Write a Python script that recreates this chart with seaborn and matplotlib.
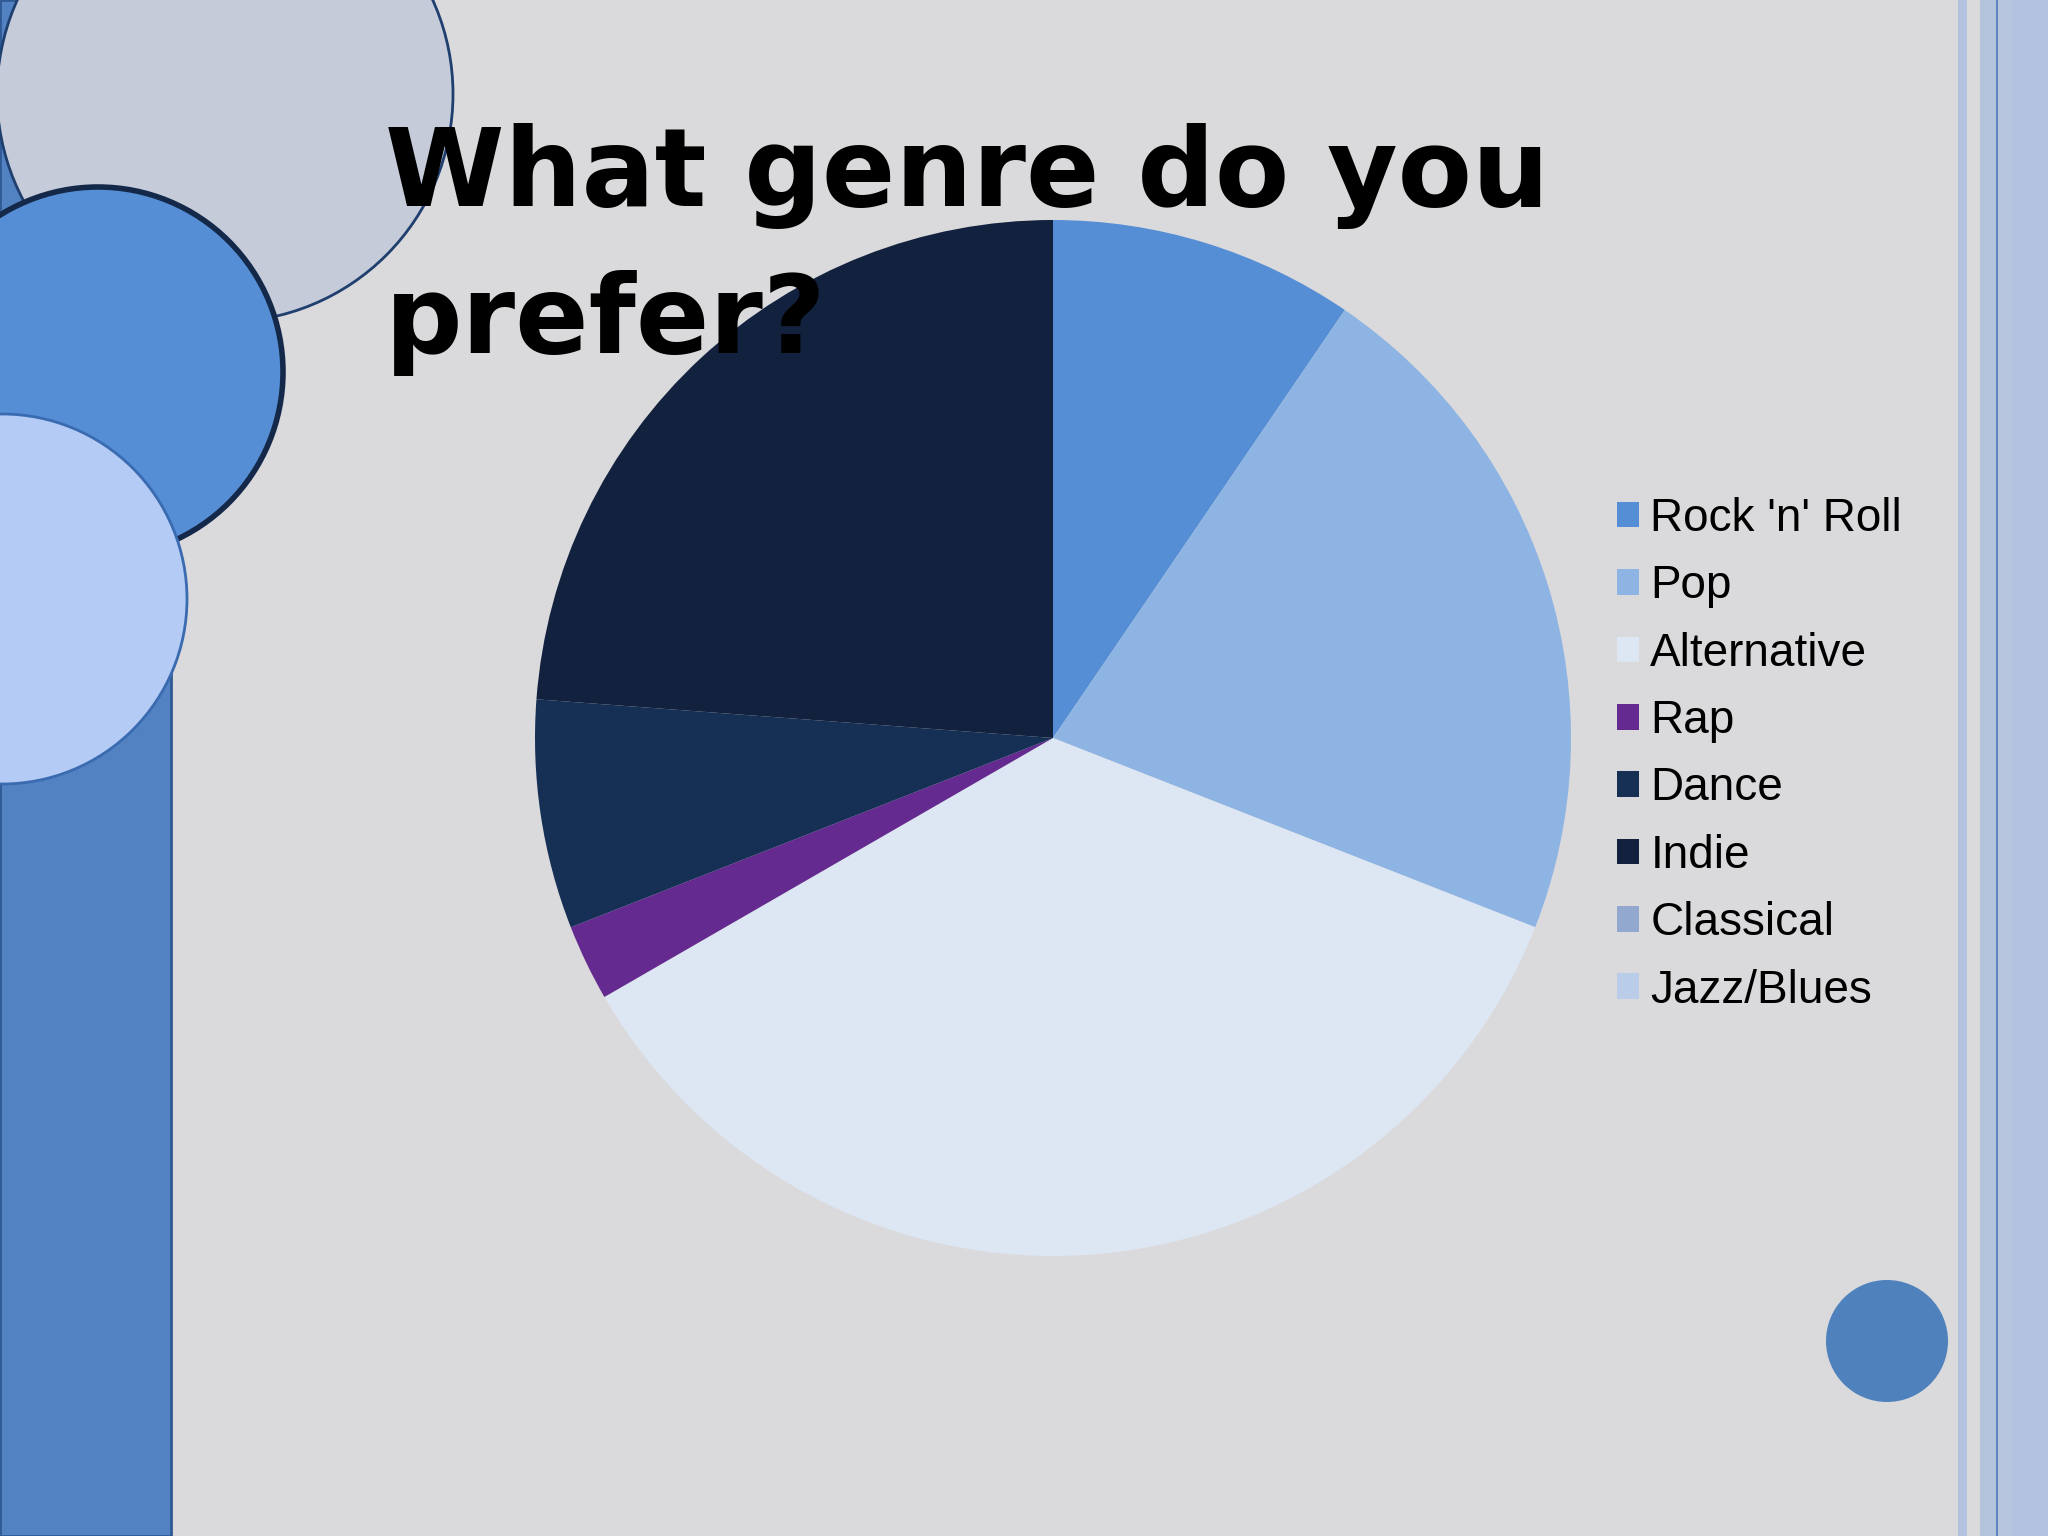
import matplotlib
matplotlib.use("Agg")
import matplotlib.pyplot as plt
from matplotlib.patches import Circle, Rectangle, Patch
import seaborn as sns

genres = ["Rock 'n' Roll", "Pop", "Alternative", "Rap", "Dance", "Indie", "Classical", "Jazz/Blues"]
votes = [4, 9, 15, 1, 3, 10, 0, 0]
genre_colors = ["#558ED5", "#8EB4E3", "#DDE6F3", "#652A8F", "#152F55", "#12223E", "#93A8CF", "#B9CDE9"]

title_lines = ["What genre do you", "prefer?"]

sns.set_theme(style="white")
plt.rcParams['font.family'] = ['Liberation Sans', 'DejaVu Sans']

W, H = 2048, 1536
fig = plt.figure(figsize=(20.48, 15.36), dpi=100)
fig.patch.set_facecolor("#DAD9DB")

# slide decoration, pixel coordinates
bg = fig.add_axes([0, 0, 1, 1])
bg.set_xlim(0, W)
bg.set_ylim(H, 0)
bg.axis("off")
bg.set_zorder(0)

bg.add_patch(Rectangle((0, 0), 171, H, facecolor="#5282C2", edgecolor="#2F5A94", lw=2))
bg.add_patch(Circle((225, 94), 228, facecolor="#C5CBD9", edgecolor="#1F3F6F", lw=2))
bg.add_patch(Circle((98, 372), 185, facecolor="#558ED5", edgecolor="#14294A", lw=4))
bg.add_patch(Circle((2, 599), 185, facecolor="#B4CBF5", edgecolor="#3A6BB0", lw=2))
bg.add_patch(Circle((1887, 1341), 61, facecolor="#4F81BD", edgecolor="none"))

# right side stripes
bg.add_patch(Rectangle((1958, 0), 9, H, facecolor="#B3C2DE", edgecolor="none"))
bg.add_patch(Rectangle((1980, 0), 16, H, facecolor="#B4C4DC", edgecolor="none"))
bg.add_patch(Rectangle((1996, 0), 2, H, facecolor="#5B86C2", edgecolor="none"))
bg.add_patch(Rectangle((1998, 0), 14, H, facecolor="#B7C5DE", edgecolor="none"))
bg.add_patch(Rectangle((2012, 0), 36, H, facecolor="#B3C3DF", edgecolor="none"))

# pie chart
cx, cy, r = 1053, 738, 518
ax = fig.add_axes([(cx - r) / W, 1 - (cy + r) / H, 2 * r / W, 2 * r / H])
wedges, _ = ax.pie(votes, colors=genre_colors, startangle=90, counterclock=False,
                   wedgeprops=dict(linewidth=0))
ax.set_xlim(-1, 1)
ax.set_ylim(-1, 1)
ax.set_aspect("equal")
ax.axis("off")
ax.set_zorder(1)

handles = [Patch(facecolor=c, edgecolor="none") for c in genre_colors]
fig.legend(handles, genres, loc="upper left", bbox_to_anchor=(1594 / W, 1 - 474 / H),
           frameon=False, fontsize=33, labelcolor="black", handlelength=0.48,
           handleheight=0.48, handletextpad=0.25, labelspacing=0.51, borderpad=0)

# title above everything
top = fig.add_axes([0, 0, 1, 1])
top.axis("off")
top.set_xlim(0, W)
top.set_ylim(H, 0)
top.set_zorder(2)
top.patch.set_alpha(0)
for line, base in zip(title_lines, [206, 353]):
    top.text(385, base, line, fontsize=78, fontweight="bold", color="black",
             family=["DejaVu Sans"], va="baseline", ha="left")

fig.savefig("out.png", dpi=100, facecolor=fig.get_facecolor())
